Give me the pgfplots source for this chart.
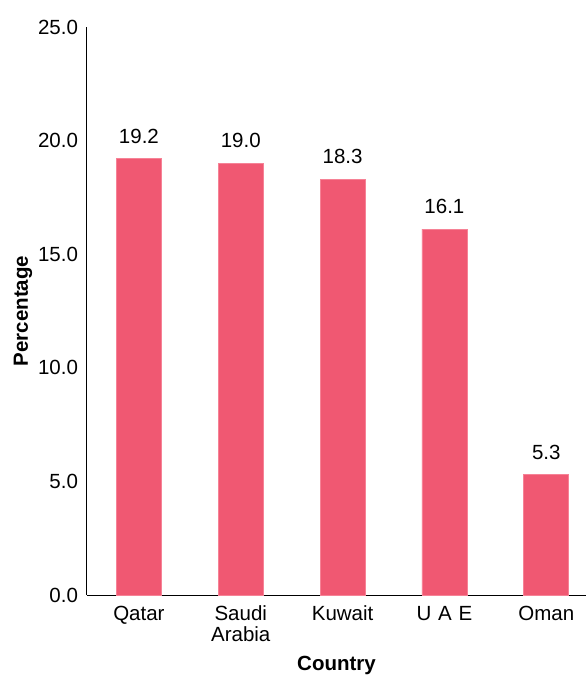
\documentclass[border=0pt]{standalone}
\usepackage{pgfplots}
\pgfplotsset{compat=1.18}
\usepackage{fontspec}
\setmainfont{Liberation Sans}
\definecolor{barc}{RGB}{240,88,114}
\definecolor{bare}{RGB}{246,130,150}
\newcommand{\cf}{\fontsize{20.5}{20.5}\selectfont}
\begin{document}
\cf
\begin{tikzpicture}
\begin{axis}[
  at={(0,0)}, anchor=south west,
  scale only axis, width=499pt, height=568pt,
  xmin=-0.51, xmax=4.39, ymin=0, ymax=25,
  axis x line*=bottom, axis y line*=left,
  axis line style={line width=1pt, black, -},
  xtick=data, xticklabels={Qatar, {Saudi\\Arabia}, Kuwait, {U\,\,A\,\,E}, Oman},
  xticklabel style={align=center, yshift=-4pt, font=\cf},
  ytick={0,5,10,15,20,25},
  yticklabel style={font=\cf, xshift=-2pt},
  major tick length=0pt,
  /pgf/number format/.cd, fixed, fixed zerofill, precision=1, assume math mode=true,
  /pgfplots/.cd,
  xlabel={\textbf{Country}}, ylabel={\textbf{Percentage}},
  xlabel style={font=\cf, yshift=-1pt},
  ylabel style={font=\cf, yshift=-8pt},
  ybar, bar width=45pt,
  nodes near coords,
  nodes near coords style={font=\cf, yshift=8pt, /pgf/number format/.cd, fixed, fixed zerofill, precision=1, assume math mode=true},
  clip=false,
]
\addplot[fill=barc, draw=bare, line width=0.6pt] coordinates {(0,19.2) (1,19.0) (2,18.3) (3,16.1) (4,5.3)};
\end{axis}
\pgfresetboundingbox
\path (-87pt,-80pt) rectangle (499pt,595pt);
\end{tikzpicture}
\end{document}
